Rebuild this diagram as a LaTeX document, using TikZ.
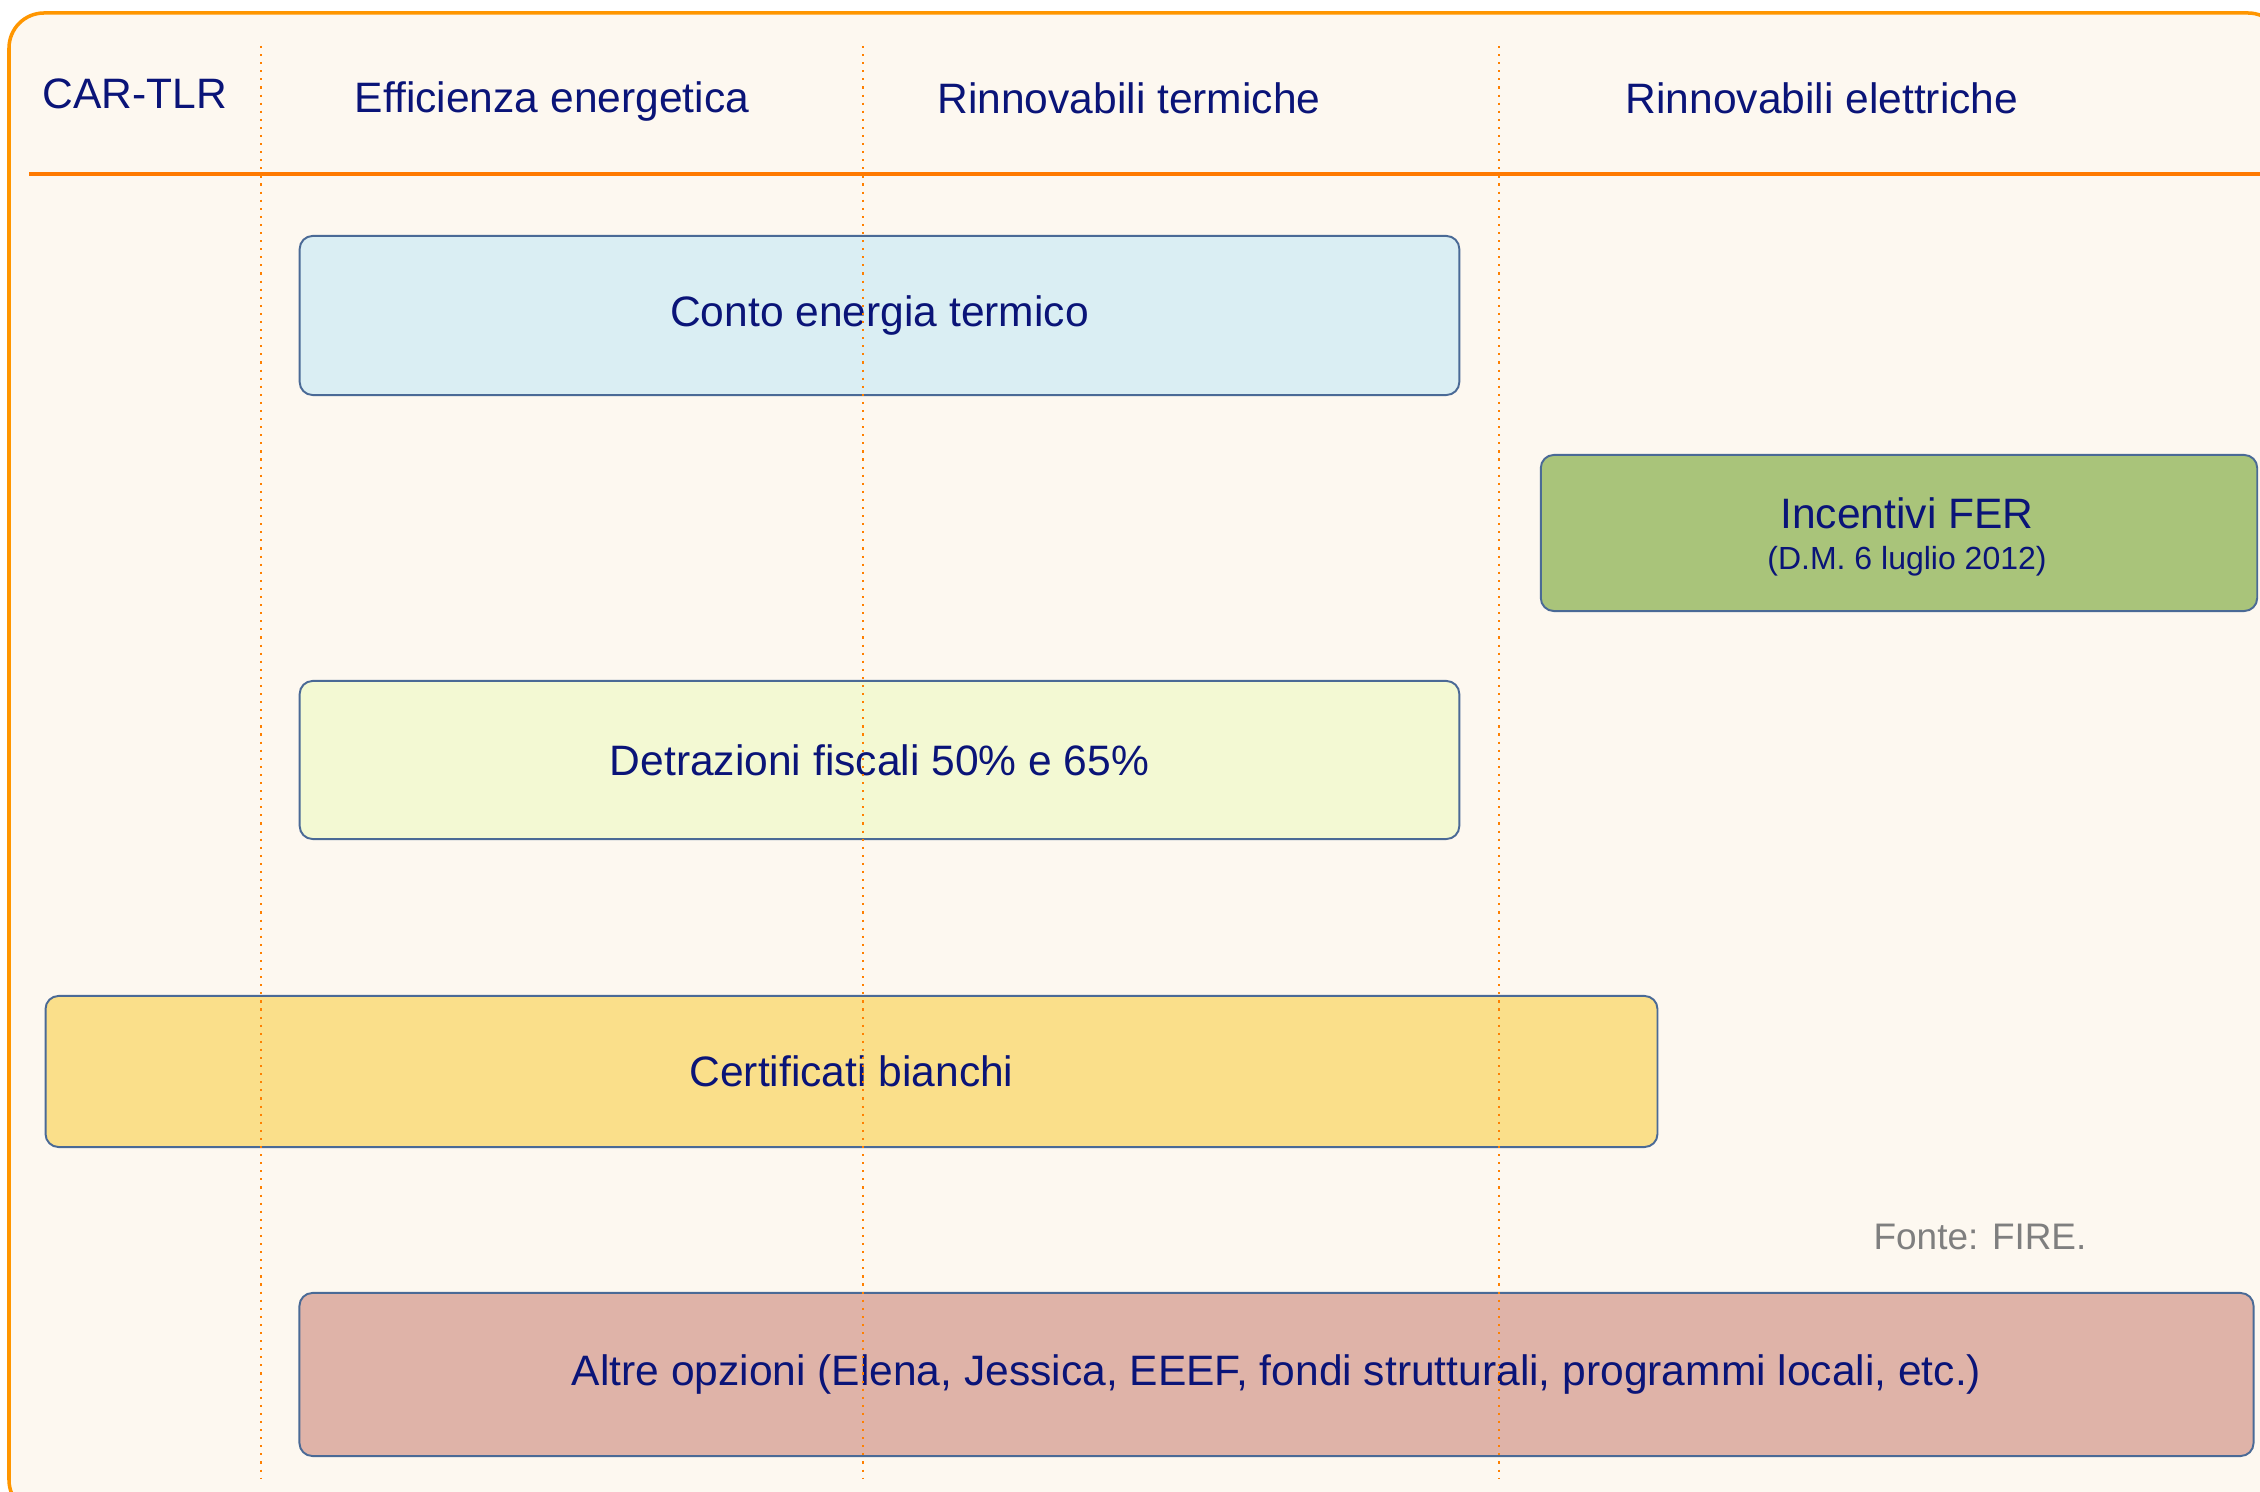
\documentclass[tikz,border=0pt]{standalone}
\usepackage{fontspec}
\setmainfont{Liberation Sans}
\usepackage{xcolor}
\usepackage{tikz}
\definecolor{framec}{HTML}{FF9600}
\definecolor{framebg}{HTML}{FDF8F0}
\definecolor{hlinec}{HTML}{FF7A00}
\definecolor{dotc}{HTML}{FF8000}
\definecolor{navy}{HTML}{0A1478}
\definecolor{boxline}{HTML}{4A6A96}
\definecolor{fontec}{HTML}{7F7F7F}
\definecolor{contoc}{HTML}{DAEEF3}
\definecolor{ferc}{HTML}{A9C47A}
\definecolor{detrc}{HTML}{F3F9D3}
\definecolor{certc}{HTML}{FADF8A}
\definecolor{altrec}{HTML}{DFB3A8}

\begin{document}
\begin{tikzpicture}[x=0.01cm,y=-0.01cm,
  box/.style={draw=boxline,line width=0.55pt,rounded corners=0.13cm,inner sep=0pt,
    text=navy,font=\fontsize{12.1}{14.5}\selectfont,align=center},
  lbl/.style={text=navy,font=\fontsize{12.1}{14.5}\selectfont,inner sep=0pt},
  sep/.style={draw=dotc,line width=0.7pt,dash pattern=on 0.6pt off 1.7pt}]
\useasboundingbox (0,0) rectangle (2260,1492);
\clip (0,0) rectangle (2260,1492);
% frame and header
\draw[draw=framec,fill=framebg,line width=1pt,rounded corners=0.35cm] (9,13) rectangle (2283,1515);
\draw[hlinec,line width=1pt] (29,174)--(2260,174);
\node[lbl] (cartlr) at (135,94) {CAR-TLR};
\node[lbl] (effic) at (552,102) {Efficienza energetica};
\node[lbl] (rinterm) at (1129,98) {Rinnovabili termiche};
\node[lbl] (rinelet) at (1822,98) {Rinnovabili elettriche};
% boxes
\node[box,fill=contoc,minimum width=11.59cm,minimum height=1.59cm] (conto) at (879.5,315.5) {Conto energia termico};
\node[box,fill=ferc,minimum width=7.16cm,minimum height=1.56cm] (fer) at (1899,533) {};
\node[lbl,align=center] (fertxt) at (1907,537)
  {Incentivi FER\\[-3pt]{\fontsize{9.1}{11}\selectfont(D.M. 6 luglio 2012)}};
\node[box,fill=detrc,minimum width=11.59cm,minimum height=1.58cm] (detr) at (879.5,760) {Detrazioni fiscali 50\% e 65\%};
\node[box,fill=certc,minimum width=16.11cm,minimum height=1.51cm] (cert) at (851.5,1071.5) {Certificati bianchi};
\node[box,fill=altrec,minimum width=19.53cm,minimum height=1.63cm] (altre) at (1276.5,1374.5)
  {Altre opzioni (Elena, Jessica, EEEF, fondi strutturali, programmi locali, etc.)};
\node[text=fontec,font=\fontsize{10.5}{12}\selectfont,inner sep=0pt] (fonte) at (1980,1237) {Fonte: FIRE.};
% column separators
\foreach \x in {261,863,1499}
  \draw[sep] (\x,46)--(\x,1479);
\end{tikzpicture}
\end{document}
